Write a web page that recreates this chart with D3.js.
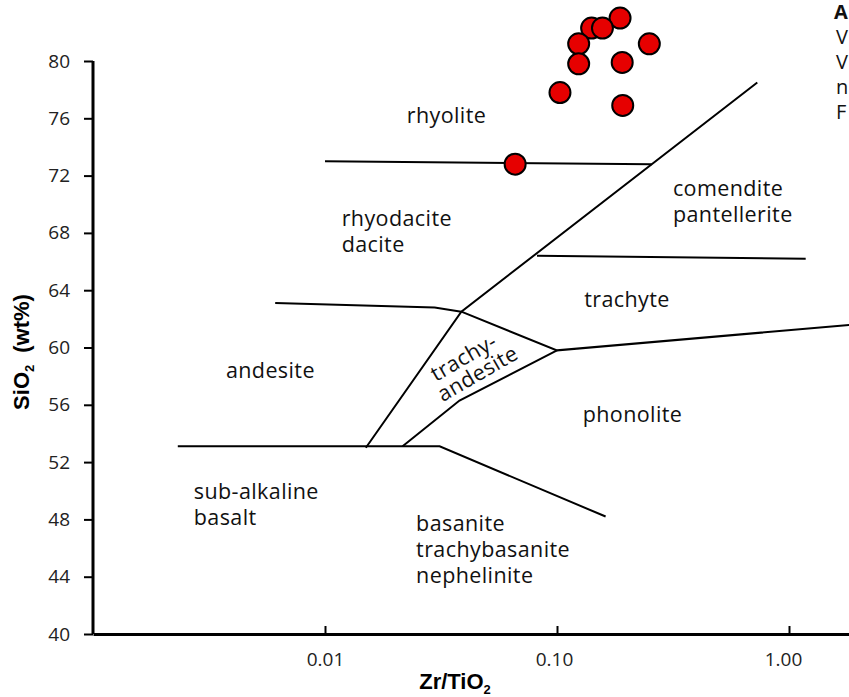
<!DOCTYPE html>
<html>
<head>
<meta charset="utf-8">
<script src="https://cdn.jsdelivr.net/npm/d3@7"></script>
<style>
  body { margin: 0; background: #fff; }
  svg { display: block; }
  .fieldlabel { font-family: "Open Sans", Lato, sans-serif; font-size: 21.5px; letter-spacing: 0.4px; fill: #111; }
  .tick text { font-family: "Open Sans", Lato, sans-serif; font-size: 19px; fill: #222; }
  .axis-title { font-family: "Liberation Sans", Arial, sans-serif; font-weight: bold; font-size: 22px; fill: #000; }
</style>
</head>
<body>
<div id="chart"></div>
<script>
// Sample analyses: Zr/TiO2 and SiO2 (wt%)
const zrTiO2 = [0.187, 0.141, 0.157, 0.124, 0.250, 0.124, 0.191, 0.103, 0.192, 0.066];
const sio2   = [83.0, 82.3, 82.3, 81.2, 81.2, 79.8, 79.9, 77.8, 76.9, 72.8];

// Field boundaries, each a list of [Zr/TiO2, SiO2]
const boundaryRhyolite   = [[0.010, 73.0], [0.256, 72.8]];
const boundaryDiagonal   = [[0.0150, 53.0], [0.0387, 62.5], [0.73, 78.5]];
const boundaryAndesite   = [[0.0061, 63.1], [0.0297, 62.8], [0.0387, 62.5]];
const boundaryTrachyAnd  = [[0.0387, 62.5], [0.100, 59.8], [1.90, 61.6]];
const boundaryTrachyLow  = [[0.0216, 53.1], [0.0380, 56.3], [0.100, 59.8]];
const boundaryComendite  = [[0.082, 66.4], [1.18, 66.2]];
const boundaryBasalt     = [[0.00232, 53.1], [0.0312, 53.1], [0.162, 48.2]];
const boundaries = [boundaryRhyolite, boundaryDiagonal, boundaryAndesite, boundaryTrachyAnd,
                    boundaryTrachyLow, boundaryComendite, boundaryBasalt];

// Field names: [text lines, Zr/TiO2 at left edge, SiO2 at first baseline]
const fieldNames = [
  [["rhyolite"], 0.0225, 75.7],
  [["rhyodacite", "dacite"], 0.0118, 68.5],
  [["comendite", "pantellerite"], 0.316, 70.6],
  [["trachyte"], 0.131, 62.8],
  [["andesite"], 0.00374, 57.9],
  [["phonolite"], 0.129, 54.8],
  [["sub-alkaline", "basalt"], 0.00272, 49.4],
  [["basanite", "trachybasanite", "nephelinite"], 0.0247, 47.2]
];
const rotatedName = ["trachy-", "andesite"];
const rotatedAt = [0.0425, 59.0];

const yTicks = [40, 44, 48, 52, 56, 60, 64, 68, 72, 76, 80];
const xTicks = [0.01, 0.1, 1];
const xTickLabels = ["0.01", "0.10", "1.00"];
// legend at the top right, only its first letters are in view
const legendLines = ["A", "V", "V", "n", "F"];

const width = 849, height = 697;

const svg = d3.select("#chart").append("svg")
  .attr("width", width)
  .attr("height", height);

const x = d3.scaleLog().domain([0.001, 10]).range([93, 1021]);
const y = d3.scaleLinear().domain([40, 80]).range([634, 61]);

// Boundary lines
const line = d3.line().x(d => x(d[0])).y(d => y(d[1]));
svg.selectAll(".boundary")
  .data(boundaries)
  .enter()
  .append("path")
  .attr("class", "boundary")
  .attr("d", line)
  .attr("fill", "none")
  .attr("stroke", "#000")
  .attr("stroke-width", 2);

// Field labels
fieldNames.forEach(f => {
  const t = svg.append("text")
    .attr("class", "fieldlabel")
    .attr("x", x(f[1]))
    .attr("y", y(f[2]));
  f[0].forEach((s, i) => {
    t.append("tspan").attr("x", x(f[1])).attr("dy", i === 0 ? 0 : 26).text(s);
  });
});

const rot = svg.append("text")
  .attr("class", "fieldlabel")
  .attr("text-anchor", "middle")
  .attr("transform", `translate(${x(rotatedAt[0])},${y(rotatedAt[1])}) rotate(-30)`);
rotatedName.forEach((s, i) => {
  rot.append("tspan").attr("x", i === 0 ? -4 : 0).attr("dy", i === 0 ? 0 : 21).text(s);
});

// Y axis
const yAxis = svg.append("g")
  .attr("transform", `translate(${x(0.001)},0)`)
  .call(d3.axisLeft(y).tickValues(yTicks).tickSize(9).tickPadding(14).tickFormat(d3.format("d")));
yAxis.select(".domain").attr("stroke-width", 3).attr("d", `M0,${y(80)}V${y(40)}`);
yAxis.selectAll(".tick line").attr("stroke-width", 2);

// X axis
const xAxis = svg.append("g")
  .attr("transform", `translate(0,${y(40)})`)
  .call(d3.axisBottom(x).tickValues(xTicks).tickSizeInner(-8).tickSizeOuter(0).tickPadding(19)
    .tickFormat((d, i) => xTickLabels[i]));
xAxis.select(".domain").attr("stroke-width", 3);
xAxis.selectAll(".tick line").attr("stroke-width", 2);
xAxis.selectAll(".tick text").attr("dx", (d, i) => -3 * i);

// Sample points
svg.selectAll(".sample")
  .data(zrTiO2)
  .enter()
  .append("circle")
  .attr("class", "sample")
  .attr("cx", d => x(d))
  .attr("cy", (d, i) => y(sio2[i]))
  .attr("r", 10.5)
  .attr("fill", "#e60000")
  .attr("stroke", "#000")
  .attr("stroke-width", 2);

// Axis titles
const xt = svg.append("text")
  .attr("class", "axis-title")
  .attr("x", 455)
  .attr("y", 689)
  .attr("text-anchor", "middle");
xt.append("tspan").text("Zr/TiO");
xt.append("tspan").attr("font-size", 13).attr("dy", 5).text("2");

const yt = svg.append("text")
  .attr("class", "axis-title")
  .attr("text-anchor", "middle")
  .attr("transform", `translate(29,352) rotate(-90)`);
yt.append("tspan").text("SiO");
yt.append("tspan").attr("font-size", 13).attr("dy", 5).text("2");
yt.append("tspan").attr("dy", -5).attr("dx", 12).text("(wt%)");

// Legend letters at the right edge
svg.append("g").selectAll("text")
  .data(legendLines)
  .enter()
  .append("text")
  .attr("class", "fieldlabel")
  .attr("x", (d, i) => i === 0 ? 834 : 836)
  .attr("y", (d, i) => 19 + i * 25)
  .attr("font-weight", (d, i) => i === 0 ? "bold" : null)
  .style("font-size", "20px")
  .style("letter-spacing", "0px")
  .text(d => d);
</script>
</body>
</html>
